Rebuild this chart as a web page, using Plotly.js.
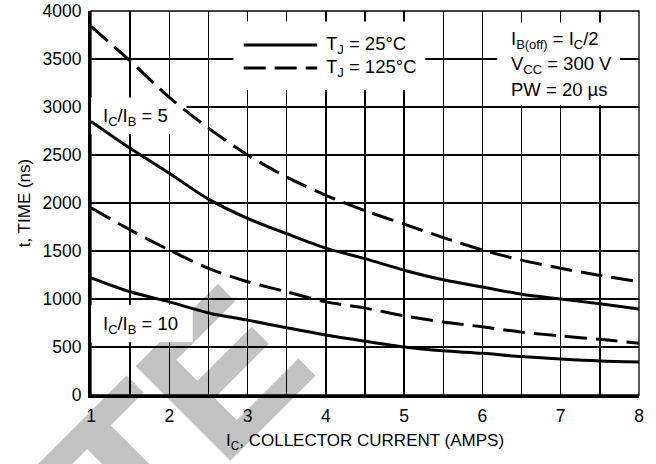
<!DOCTYPE html>
<html>
<head>
<meta charset="utf-8">
<script src="https://cdn.plot.ly/plotly-3.0.1.min.js"></script>
<style>
  html, body { margin: 0; padding: 0; background: #ffffff; overflow: hidden; }
  #wrap { position: relative; width: 656px; height: 464px; overflow: hidden; }
  #stamp {
    position: absolute; left: -1081px; top: 209px; width: 1400px;
    text-align: right; white-space: nowrap;
    font-family: 'Liberation Sans', Arial, sans-serif; font-weight: bold;
    font-size: 190px; line-height: 190px; color: #c2c2c2;
    -webkit-text-stroke: 3px #c2c2c2;
    transform-origin: 100% 161px; transform: rotate(-45deg) scaleX(1.1);
    z-index: 0;
  }
  #chart { position: absolute; left: 0; top: 0; z-index: 1; }
</style>
</head>
<body>
<div id="wrap">
  <div id="stamp">OBSOLETE</div>
  <div id="chart"></div>
</div>
<script>
// Collector current (A)
const ic = [1, 1.5, 2, 2.5, 3, 3.5, 4, 4.5, 5, 5.5, 6, 6.5, 7, 7.5, 8];
// Switching time (ns) for each drive ratio and junction temperature
const t5_25C   = [2850, 2570, 2310, 2040, 1840, 1680, 1530, 1420, 1300, 1200, 1125, 1050, 1000, 950, 895];
const t5_125C  = [3840, 3480, 3100, 2780, 2500, 2270, 2080, 1920, 1780, 1640, 1510, 1405, 1320, 1245, 1180];
const t10_25C  = [1220, 1075, 970, 855, 780, 700, 625, 560, 500, 460, 435, 400, 375, 355, 345];
const t10_125C = [1950, 1720, 1510, 1320, 1180, 1075, 970, 905, 825, 760, 710, 655, 615, 580, 540];

// Axis ticks
const xTickVals = [1, 1.5, 2, 2.5, 3, 3.5, 4, 4.5, 5, 5.5, 6, 6.5, 7, 7.5, 8];
const xTickText = ['1', '', '2', '', '3', '', '4', '', '5', '', '6', '', '7', '', '8'];
const yTickVals = [0, 500, 1000, 1500, 2000, 2500, 3000, 3500, 4000];

// Text blocks
const legendLabels = ['T<sub>J</sub> = 25°C', 'T<sub>J</sub> = 125°C'];
const conditionLines = ['I<sub>B(off)</sub> = I<sub>C</sub>/2', 'V<sub>CC</sub> = 300 V', 'PW = 20 µs'];
const ratioLabels = ['I<sub>C</sub>/I<sub>B</sub> = 5', 'I<sub>C</sub>/I<sub>B</sub> = 10'];

const FONT = "'Liberation Sans', Arial, sans-serif";
const solid = { color: '#000', width: 3, shape: 'spline', smoothing: 0.8 };
const dashed = { color: '#000', width: 3, dash: '22px,9px', shape: 'spline', smoothing: 0.8 };

const traces = [
  { x: ic, y: t5_25C,   mode: 'lines', line: solid,  name: 'IC/IB = 5, 25°C' },
  { x: ic, y: t5_125C,  mode: 'lines', line: dashed, name: 'IC/IB = 5, 125°C' },
  { x: ic, y: t10_25C,  mode: 'lines', line: solid,  name: 'IC/IB = 10, 25°C' },
  { x: ic, y: t10_125C, mode: 'lines', line: dashed, name: 'IC/IB = 10, 125°C' }
].map(t => Object.assign(t, { hoverinfo: 'skip', showlegend: false }));

// White panels that break the grid behind text
function panel(x0, x1, y0, y1) {
  return { type: 'rect', layer: 'between', xref: 'x', yref: 'y', x0, x1, y0, y1,
           fillcolor: '#ffffff', line: { width: 0 } };
}

const shapes = [
  panel(2.82, 5.27, 3177, 3890),   // legend
  panel(6.19, 7.76, 3020, 3880),   // test conditions
  panel(1.0, 2.22, 2720, 3100),    // IC/IB = 5 label
  panel(1.0, 2.3, 550, 940),       // IC/IB = 10 label
  // thin frame on the top and right edges
  { type: 'rect', layer: 'between', xref: 'paper', yref: 'paper', x0: 0, x1: 1, y0: 0, y1: 1,
    line: { color: '#000', width: 1.3 }, fillcolor: 'rgba(0,0,0,0)' },
  // legend keys
  { type: 'line', layer: 'above', xref: 'x', yref: 'y', x0: 2.95, x1: 3.89, y0: 3646, y1: 3646,
    line: { color: '#000', width: 3 } },
  { type: 'line', layer: 'above', xref: 'x', yref: 'y', x0: 2.95, x1: 3.89, y0: 3406, y1: 3406,
    line: { color: '#000', width: 3, dash: '22px,9px' } }
];

const txt = (text, x, y) => ({
  text, x, y, xref: 'x', yref: 'y', xanchor: 'left', yanchor: 'middle',
  showarrow: false, font: { family: FONT, size: 18.5, color: '#000' }
});

const annotations = [
  txt(legendLabels[0], 3.98, 3646),
  txt(legendLabels[1], 3.98, 3406),
  txt(conditionLines[0], 6.34, 3700),
  txt(conditionLines[1], 6.34, 3440),
  txt(conditionLines[2], 6.34, 3180),
  txt(ratioLabels[0], 1.13, 2900),
  txt(ratioLabels[1], 1.13, 730)
];

const layout = {
  width: 656, height: 464,
  margin: { l: 91, r: 17, t: 11, b: 69, pad: 0 },
  paper_bgcolor: 'rgba(0,0,0,0)', plot_bgcolor: 'rgba(0,0,0,0)',
  font: { family: FONT, color: '#000', size: 17 },
  showlegend: false,
  xaxis: {
    range: [1, 8], tickvals: xTickVals, ticktext: xTickText, ticks: '',
    showgrid: true, gridcolor: '#000', gridwidth: 1.3, zeroline: false,
    showline: true, linecolor: '#000', linewidth: 3, ticklabelstandoff: 3,
    tickfont: { family: FONT, size: 17.5, color: '#000' },
    title: { text: 'I<sub>C</sub>, COLLECTOR CURRENT (AMPS)', font: { family: FONT, size: 17, color: '#000' }, standoff: 10 }
  },
  yaxis: {
    range: [0, 4000], tickvals: yTickVals, ticks: '',
    showgrid: true, gridcolor: '#000', gridwidth: 1.3, zeroline: false,
    showline: true, linecolor: '#000', linewidth: 3, ticklabelstandoff: 3,
    tickfont: { family: FONT, size: 17.5, color: '#000' },
    title: { text: 't, TIME (ns)', font: { family: FONT, size: 17, color: '#000' }, standoff: 8 }
  },
  shapes, annotations
};

Plotly.newPlot('chart', traces, layout, { staticPlot: true, displayModeBar: false });
</script>
</body>
</html>
